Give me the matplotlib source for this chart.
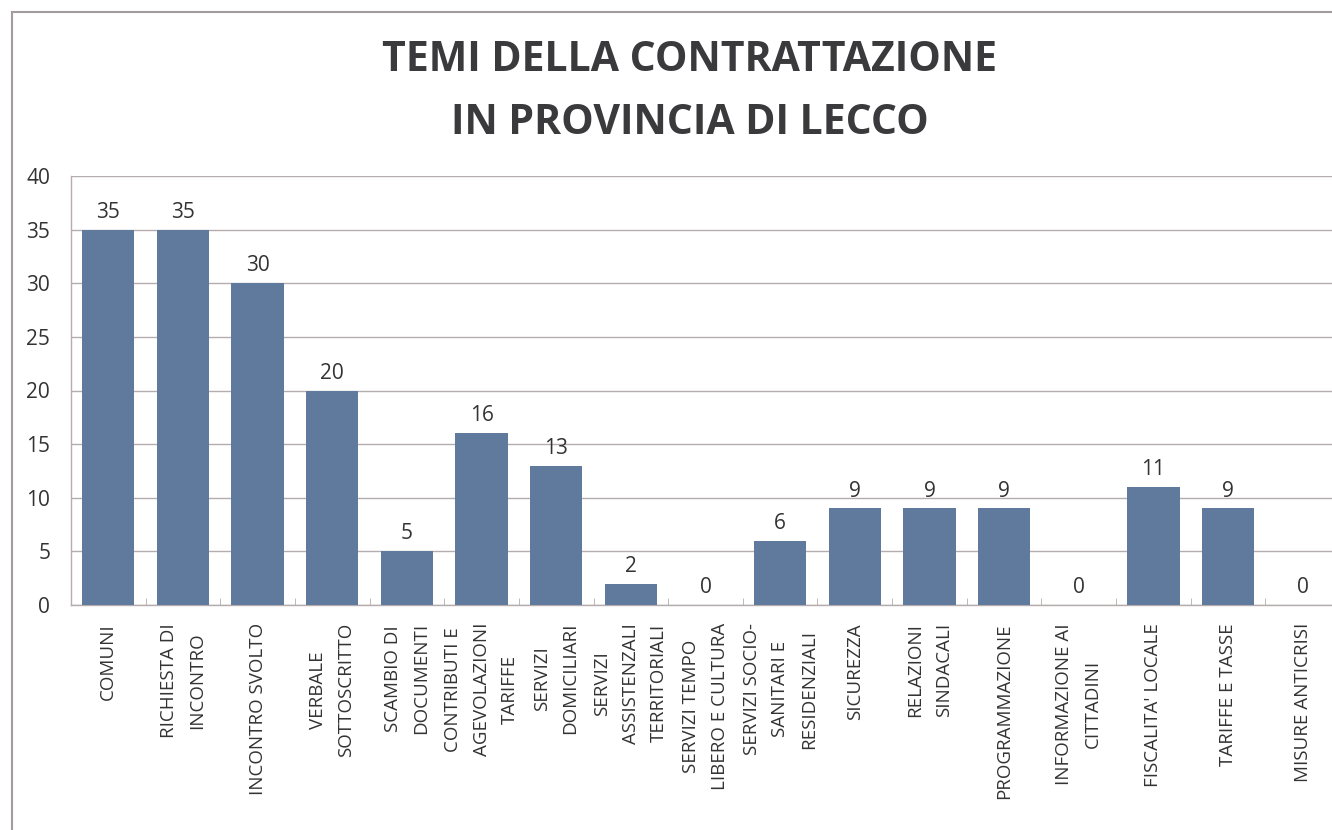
import matplotlib
matplotlib.use("Agg")
import matplotlib.pyplot as plt
from matplotlib.lines import Line2D
import numpy as np

categories = [
    "COMUNI",
    "RICHIESTA DI\nINCONTRO",
    "INCONTRO SVOLTO",
    "VERBALE\nSOTTOSCRITTO",
    "SCAMBIO DI\nDOCUMENTI",
    "CONTRIBUTI E\nAGEVOLAZIONI\nTARIFFE",
    "SERVIZI\nDOMICILIARI",
    "SERVIZI\nASSISTENZALI\nTERRITORIALI",
    "SERVIZI TEMPO\nLIBERO E CULTURA",
    "SERVIZI SOCIO-\nSANITARI E\nRESIDENZIALI",
    "SICUREZZA",
    "RELAZIONI\nSINDACALI",
    "PROGRAMMAZIONE",
    "INFORMAZIONE AI\nCITTADINI",
    "FISCALITA' LOCALE",
    "TARIFFE E TASSE",
    "MISURE ANTICRISI",
]
values = [35, 35, 30, 20, 5, 16, 13, 2, 0, 6, 9, 9, 9, 0, 11, 9, 0]
yticks = [0, 5, 10, 15, 20, 25, 30, 35, 40]
title = "TEMI DELLA CONTRATTAZIONE\nIN PROVINCIA DI LECCO"

W, H = 1332, 830
plt.rcParams['font.family'] = ['Open Sans', 'DejaVu Sans']
text_col = '#333333'
grid_col = '#B5ADAD'
bar_col = '#5F7A9C'

fig = plt.figure(figsize=(W / 100, H / 100), dpi=100)
fig.patch.set_facecolor('white')

# outer frame (only left and top edges are visible in the original)
fig.add_artist(Line2D([12 / W, 12 / W], [0, 1 - 12 / H], color='#A39C9C', lw=1.5))
fig.add_artist(Line2D([12 / W, 1], [1 - 12 / H, 1 - 12 / H], color='#A39C9C', lw=1.5))

left, right = 71 / W, 1340 / W
bottom, top = 1 - 605 / H, 1 - 176 / H
ax = fig.add_axes([left, bottom, right - left, top - bottom])

x = np.arange(len(values))
bars = ax.bar(x, values, width=0.7, color=bar_col, zorder=3)

ax.set_xlim(-0.5, len(values) - 0.5)
ax.set_ylim(0, 40)
ax.set_yticks(yticks)
ax.yaxis.grid(True, color=grid_col, lw=1, zorder=0)

for s in ['top', 'right']:
    ax.spines[s].set_visible(False)
for s in ['left', 'bottom']:
    ax.spines[s].set_color(grid_col)
    ax.spines[s].set_linewidth(1)

ax.tick_params(axis='y', length=0, pad=15, labelsize=15, labelcolor=text_col)
ax.set_xticks(x)
ax.set_xticklabels(categories, rotation=90, fontsize=13.5, color=text_col,
                   linespacing=1.75, ha='center', va='top', multialignment='center')
ax.tick_params(axis='x', which='major', length=0, pad=13)
ax.set_xticks(np.arange(len(values) + 1) - 0.5, minor=True)
ax.tick_params(axis='x', which='minor', direction='in', length=5, color=grid_col)

for b, v in zip(bars, values):
    ax.annotate(str(v), (b.get_x() + b.get_width() / 2, v), xytext=(0, 5),
                textcoords='offset points', ha='center', va='bottom',
                fontsize=15, color=text_col)

fig.text(690 / W, 1 - 92 / H, title, ha='center', va='center', fontsize=29.5,
         fontweight='bold', color='#3A3A3C', linespacing=1.73)

fig.savefig('out.png', dpi=100)
